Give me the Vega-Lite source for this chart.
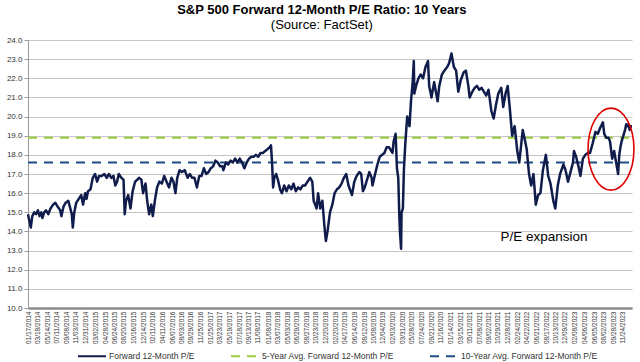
{
  "$schema": "https://vega.github.io/schema/vega-lite/v6.json",
  "autosize": {"type": "none"},
  "width": 604,
  "height": 268,
  "padding": {"left": 28, "top": 40, "right": 8, "bottom": 54},
  "background": "white",
  "config": {
    "view": {"stroke": null},
    "font": "Liberation Sans",
    "axis": {"labelFont": "Liberation Sans", "labelColor": "#333333"},
    "legend": {"labelFont": "Liberation Sans"}
  },
  "title": {
    "text": "S&P 500 Forward 12-Month P/E Ratio: 10 Years",
    "subtitle": "(Source: FactSet)",
    "anchor": "middle",
    "frame": "bounds",
    "font": "Liberation Sans",
    "fontSize": 13,
    "fontWeight": "bold",
    "color": "#000000",
    "subtitleFont": "Liberation Sans",
    "subtitleFontSize": 13,
    "subtitleColor": "#000000",
    "subtitlePadding": 2,
    "offset": 4
  },
  "datasets": {
    "pe": [
      {"date": "2014-01-17", "pe": 14.9}, {"date": "2014-01-24", "pe": 14.6}, {"date": "2014-02-03", "pe": 14.2}, {"date": "2014-02-12", "pe": 14.8}, {"date": "2014-02-24", "pe": 15.0}, {"date": "2014-03-07", "pe": 14.9}, {"date": "2014-03-18", "pe": 15.1}, {"date": "2014-03-28", "pe": 14.8}, {"date": "2014-04-07", "pe": 15.0}, {"date": "2014-04-14", "pe": 14.7}, {"date": "2014-04-25", "pe": 15.0}, {"date": "2014-05-06", "pe": 15.1}, {"date": "2014-05-20", "pe": 14.9}, {"date": "2014-06-02", "pe": 15.2}, {"date": "2014-06-18", "pe": 15.4}, {"date": "2014-07-01", "pe": 15.5}, {"date": "2014-07-15", "pe": 15.3}, {"date": "2014-07-31", "pe": 15.1}, {"date": "2014-08-07", "pe": 14.8}, {"date": "2014-08-20", "pe": 15.3}, {"date": "2014-09-02", "pe": 15.5}, {"date": "2014-09-18", "pe": 15.6}, {"date": "2014-09-30", "pe": 15.2}, {"date": "2014-10-09", "pe": 14.9}, {"date": "2014-10-15", "pe": 14.2}, {"date": "2014-10-24", "pe": 15.0}, {"date": "2014-11-05", "pe": 15.5}, {"date": "2014-11-20", "pe": 15.7}, {"date": "2014-12-05", "pe": 15.9}, {"date": "2014-12-16", "pe": 15.4}, {"date": "2014-12-29", "pe": 16.0},
      {"date": "2015-01-06", "pe": 15.7}, {"date": "2015-01-15", "pe": 16.1}, {"date": "2015-01-30", "pe": 16.2}, {"date": "2015-02-13", "pe": 16.8}, {"date": "2015-02-27", "pe": 17.0}, {"date": "2015-03-11", "pe": 16.6}, {"date": "2015-03-23", "pe": 16.9}, {"date": "2015-04-08", "pe": 16.9}, {"date": "2015-04-24", "pe": 17.0}, {"date": "2015-05-08", "pe": 16.8}, {"date": "2015-05-21", "pe": 17.0}, {"date": "2015-06-05", "pe": 16.8}, {"date": "2015-06-18", "pe": 16.9}, {"date": "2015-06-29", "pe": 16.4}, {"date": "2015-07-10", "pe": 16.6}, {"date": "2015-07-20", "pe": 17.0}, {"date": "2015-08-05", "pe": 16.8}, {"date": "2015-08-18", "pe": 16.7}, {"date": "2015-08-25", "pe": 14.9}, {"date": "2015-09-02", "pe": 15.6}, {"date": "2015-09-15", "pe": 15.9}, {"date": "2015-09-29", "pe": 15.2}, {"date": "2015-10-12", "pe": 16.1}, {"date": "2015-10-27", "pe": 16.6}, {"date": "2015-11-09", "pe": 16.7}, {"date": "2015-11-20", "pe": 16.8}, {"date": "2015-12-04", "pe": 16.7}, {"date": "2015-12-14", "pe": 16.0}, {"date": "2015-12-29", "pe": 16.5},
      {"date": "2016-01-08", "pe": 15.6}, {"date": "2016-01-20", "pe": 14.9}, {"date": "2016-02-02", "pe": 15.4}, {"date": "2016-02-11", "pe": 14.8}, {"date": "2016-02-25", "pe": 15.7}, {"date": "2016-03-08", "pe": 16.3}, {"date": "2016-03-22", "pe": 16.6}, {"date": "2016-04-06", "pe": 16.5}, {"date": "2016-04-20", "pe": 16.9}, {"date": "2016-05-04", "pe": 16.6}, {"date": "2016-05-19", "pe": 16.3}, {"date": "2016-06-03", "pe": 16.8}, {"date": "2016-06-15", "pe": 16.6}, {"date": "2016-06-27", "pe": 16.0}, {"date": "2016-07-08", "pe": 16.8}, {"date": "2016-07-22", "pe": 17.2}, {"date": "2016-08-05", "pe": 17.1}, {"date": "2016-08-22", "pe": 17.2}, {"date": "2016-09-09", "pe": 16.8}, {"date": "2016-09-22", "pe": 17.0}, {"date": "2016-10-06", "pe": 16.8}, {"date": "2016-10-20", "pe": 16.8}, {"date": "2016-11-04", "pe": 16.3}, {"date": "2016-11-18", "pe": 16.9}, {"date": "2016-12-02", "pe": 16.9}, {"date": "2016-12-16", "pe": 17.3}, {"date": "2016-12-30", "pe": 17.0},
      {"date": "2017-01-13", "pe": 17.1}, {"date": "2017-01-27", "pe": 17.3}, {"date": "2017-02-10", "pe": 17.4}, {"date": "2017-02-24", "pe": 17.7}, {"date": "2017-03-10", "pe": 17.6}, {"date": "2017-03-24", "pe": 17.4}, {"date": "2017-04-07", "pe": 17.4}, {"date": "2017-04-13", "pe": 17.2}, {"date": "2017-04-28", "pe": 17.6}, {"date": "2017-05-12", "pe": 17.5}, {"date": "2017-05-26", "pe": 17.7}, {"date": "2017-06-09", "pe": 17.6}, {"date": "2017-06-23", "pe": 17.8}, {"date": "2017-07-07", "pe": 17.6}, {"date": "2017-07-21", "pe": 17.8}, {"date": "2017-08-04", "pe": 17.6}, {"date": "2017-08-18", "pe": 17.3}, {"date": "2017-09-01", "pe": 17.6}, {"date": "2017-09-15", "pe": 17.8}, {"date": "2017-09-29", "pe": 17.9}, {"date": "2017-10-13", "pe": 17.9}, {"date": "2017-10-27", "pe": 18.0}, {"date": "2017-11-10", "pe": 17.9}, {"date": "2017-11-24", "pe": 18.1}, {"date": "2017-12-08", "pe": 18.1}, {"date": "2017-12-22", "pe": 18.2},
      {"date": "2018-01-05", "pe": 18.3}, {"date": "2018-01-19", "pe": 18.4}, {"date": "2018-01-26", "pe": 18.5}, {"date": "2018-02-02", "pe": 17.5}, {"date": "2018-02-08", "pe": 16.3}, {"date": "2018-02-15", "pe": 16.8}, {"date": "2018-02-26", "pe": 17.0}, {"date": "2018-03-09", "pe": 16.7}, {"date": "2018-03-22", "pe": 16.2}, {"date": "2018-04-02", "pe": 16.0}, {"date": "2018-04-16", "pe": 16.4}, {"date": "2018-04-30", "pe": 16.1}, {"date": "2018-05-14", "pe": 16.4}, {"date": "2018-05-29", "pe": 16.2}, {"date": "2018-06-11", "pe": 16.5}, {"date": "2018-06-25", "pe": 16.1}, {"date": "2018-07-09", "pe": 16.3}, {"date": "2018-07-23", "pe": 16.2}, {"date": "2018-08-06", "pe": 16.4}, {"date": "2018-08-20", "pe": 16.4}, {"date": "2018-09-04", "pe": 16.6}, {"date": "2018-09-20", "pe": 16.8}, {"date": "2018-10-03", "pe": 16.6}, {"date": "2018-10-11", "pe": 15.6}, {"date": "2018-10-29", "pe": 15.2}, {"date": "2018-11-07", "pe": 16.0}, {"date": "2018-11-20", "pe": 15.2}, {"date": "2018-12-03", "pe": 15.6}, {"date": "2018-12-14", "pe": 14.4}, {"date": "2018-12-24", "pe": 13.5},
      {"date": "2019-01-03", "pe": 14.0}, {"date": "2019-01-18", "pe": 15.0}, {"date": "2019-02-01", "pe": 15.4}, {"date": "2019-02-15", "pe": 16.0}, {"date": "2019-03-01", "pe": 16.2}, {"date": "2019-03-15", "pe": 16.3}, {"date": "2019-03-29", "pe": 16.5}, {"date": "2019-04-12", "pe": 16.8}, {"date": "2019-04-26", "pe": 17.0}, {"date": "2019-05-10", "pe": 16.4}, {"date": "2019-05-31", "pe": 15.9}, {"date": "2019-06-14", "pe": 16.6}, {"date": "2019-06-28", "pe": 16.9}, {"date": "2019-07-15", "pe": 17.1}, {"date": "2019-07-26", "pe": 17.0}, {"date": "2019-08-05", "pe": 16.1}, {"date": "2019-08-16", "pe": 16.3}, {"date": "2019-08-30", "pe": 16.7}, {"date": "2019-09-13", "pe": 17.1}, {"date": "2019-09-27", "pe": 16.8}, {"date": "2019-10-02", "pe": 16.4}, {"date": "2019-10-18", "pe": 17.0}, {"date": "2019-11-01", "pe": 17.5}, {"date": "2019-11-15", "pe": 17.9}, {"date": "2019-11-29", "pe": 18.0}, {"date": "2019-12-13", "pe": 18.1}, {"date": "2019-12-27", "pe": 18.4},
      {"date": "2020-01-10", "pe": 18.4}, {"date": "2020-01-24", "pe": 18.2}, {"date": "2020-01-31", "pe": 18.1}, {"date": "2020-02-07", "pe": 18.7}, {"date": "2020-02-19", "pe": 19.1}, {"date": "2020-02-27", "pe": 17.3}, {"date": "2020-03-06", "pe": 16.8}, {"date": "2020-03-12", "pe": 14.9}, {"date": "2020-03-16", "pe": 14.0}, {"date": "2020-03-23", "pe": 13.1}, {"date": "2020-03-26", "pe": 15.0}, {"date": "2020-04-03", "pe": 15.2}, {"date": "2020-04-09", "pe": 17.2}, {"date": "2020-04-17", "pe": 18.5}, {"date": "2020-04-29", "pe": 20.0}, {"date": "2020-05-13", "pe": 19.5}, {"date": "2020-05-22", "pe": 20.8}, {"date": "2020-06-01", "pe": 21.8}, {"date": "2020-06-08", "pe": 22.9}, {"date": "2020-06-11", "pe": 21.2}, {"date": "2020-06-22", "pe": 21.6}, {"date": "2020-07-06", "pe": 22.0}, {"date": "2020-07-20", "pe": 22.2}, {"date": "2020-08-03", "pe": 22.0}, {"date": "2020-08-18", "pe": 22.6}, {"date": "2020-09-02", "pe": 22.9}, {"date": "2020-09-09", "pe": 21.6}, {"date": "2020-09-23", "pe": 21.0}, {"date": "2020-10-09", "pe": 21.8}, {"date": "2020-10-30", "pe": 20.8}, {"date": "2020-11-09", "pe": 21.6}, {"date": "2020-11-25", "pe": 22.2}, {"date": "2020-12-10", "pe": 22.4}, {"date": "2020-12-28", "pe": 22.6},
      {"date": "2021-01-08", "pe": 22.8}, {"date": "2021-01-22", "pe": 23.3}, {"date": "2021-02-05", "pe": 22.6}, {"date": "2021-02-19", "pe": 22.4}, {"date": "2021-03-04", "pe": 21.3}, {"date": "2021-03-19", "pe": 21.9}, {"date": "2021-04-05", "pe": 22.3}, {"date": "2021-04-19", "pe": 22.4}, {"date": "2021-05-04", "pe": 21.6}, {"date": "2021-05-12", "pe": 21.0}, {"date": "2021-05-28", "pe": 21.3}, {"date": "2021-06-11", "pe": 21.5}, {"date": "2021-06-25", "pe": 21.6}, {"date": "2021-07-09", "pe": 21.4}, {"date": "2021-07-23", "pe": 21.5}, {"date": "2021-08-06", "pe": 21.3}, {"date": "2021-08-20", "pe": 21.1}, {"date": "2021-09-03", "pe": 21.4}, {"date": "2021-09-20", "pe": 20.3}, {"date": "2021-10-04", "pe": 19.9}, {"date": "2021-10-18", "pe": 20.6}, {"date": "2021-11-01", "pe": 21.2}, {"date": "2021-11-19", "pe": 21.5}, {"date": "2021-12-01", "pe": 20.5}, {"date": "2021-12-15", "pe": 21.2}, {"date": "2021-12-28", "pe": 21.6},
      {"date": "2022-01-10", "pe": 20.4}, {"date": "2022-01-24", "pe": 19.0}, {"date": "2022-02-08", "pe": 19.5}, {"date": "2022-02-24", "pe": 18.2}, {"date": "2022-03-08", "pe": 17.6}, {"date": "2022-03-29", "pe": 19.3}, {"date": "2022-04-08", "pe": 18.9}, {"date": "2022-04-22", "pe": 18.3}, {"date": "2022-05-06", "pe": 17.0}, {"date": "2022-05-19", "pe": 16.4}, {"date": "2022-06-02", "pe": 17.0}, {"date": "2022-06-16", "pe": 15.4}, {"date": "2022-06-30", "pe": 15.9}, {"date": "2022-07-14", "pe": 16.0}, {"date": "2022-07-29", "pe": 17.2}, {"date": "2022-08-16", "pe": 18.0}, {"date": "2022-08-30", "pe": 16.9}, {"date": "2022-09-13", "pe": 16.5}, {"date": "2022-09-30", "pe": 15.6}, {"date": "2022-10-12", "pe": 15.2}, {"date": "2022-10-27", "pe": 16.4}, {"date": "2022-11-10", "pe": 17.0}, {"date": "2022-11-30", "pe": 17.5}, {"date": "2022-12-13", "pe": 17.2}, {"date": "2022-12-28", "pe": 16.6},
      {"date": "2023-01-12", "pe": 17.1}, {"date": "2023-01-27", "pe": 17.6}, {"date": "2023-02-02", "pe": 18.2}, {"date": "2023-02-15", "pe": 17.9}, {"date": "2023-03-01", "pe": 17.4}, {"date": "2023-03-13", "pe": 16.9}, {"date": "2023-03-28", "pe": 17.8}, {"date": "2023-04-12", "pe": 18.0}, {"date": "2023-04-27", "pe": 18.1}, {"date": "2023-05-10", "pe": 18.1}, {"date": "2023-05-26", "pe": 18.6}, {"date": "2023-06-12", "pe": 19.2}, {"date": "2023-06-26", "pe": 19.1}, {"date": "2023-07-10", "pe": 19.4}, {"date": "2023-07-27", "pe": 19.7}, {"date": "2023-08-04", "pe": 19.1}, {"date": "2023-08-16", "pe": 18.9}, {"date": "2023-08-30", "pe": 18.9}, {"date": "2023-09-08", "pe": 18.7}, {"date": "2023-09-21", "pe": 17.8}, {"date": "2023-10-03", "pe": 18.2}, {"date": "2023-10-13", "pe": 17.7}, {"date": "2023-10-27", "pe": 17.0}, {"date": "2023-11-03", "pe": 18.0}, {"date": "2023-11-10", "pe": 18.4}, {"date": "2023-11-17", "pe": 18.7}, {"date": "2023-11-24", "pe": 18.9}, {"date": "2023-12-01", "pe": 19.1}, {"date": "2023-12-08", "pe": 19.3}, {"date": "2023-12-15", "pe": 19.6}, {"date": "2023-12-22", "pe": 19.5}, {"date": "2023-12-29", "pe": 19.6}, {"date": "2024-01-05", "pe": 19.3}, {"date": "2024-01-12", "pe": 19.5}, {"date": "2024-01-19", "pe": 19.5}
    ],
    "avg": [
      {"date": "2014-01-17", "pe": 18.9, "series": "5-Year Avg. Forward 12-Month P/E"},
      {"date": "2024-01-19", "pe": 18.9, "series": "5-Year Avg. Forward 12-Month P/E"},
      {"date": "2014-01-17", "pe": 17.6, "series": "10-Year Avg. Forward 12-Month P/E"},
      {"date": "2024-01-19", "pe": 17.6, "series": "10-Year Avg. Forward 12-Month P/E"}
    ],
    "notes": [
      {"date": "2022-08-05", "pe": 13.7, "label": "P/E expansion"}
    ],
    "circle": [
      {"date": "2023-09-14", "pe": 18.3}
    ]
  },
  "encoding": {
    "x": {
      "field": "date", "type": "temporal",
      "scale": {"type": "utc"},
      "axis": {
        "title": null,
        "format": "%m/%d/%Y",
        "labelAngle": 270,
        "labelFontSize": 6.5,
        "labelPadding": 3,
        "labelOverlap": false,
        "grid": false,
        "ticks": false,
        "domainColor": "#8c8c8c",
        "domainWidth": 2.5,
        "values": [
          {"year": 2014, "month": 1, "date": 17, "utc": true}, {"year": 2014, "month": 3, "date": 18, "utc": true}, {"year": 2014, "month": 5, "date": 14, "utc": true}, {"year": 2014, "month": 7, "date": 11, "utc": true}, {"year": 2014, "month": 9, "date": 8, "utc": true}, {"year": 2014, "month": 11, "date": 3, "utc": true}, {"year": 2014, "month": 12, "date": 31, "utc": true},
          {"year": 2015, "month": 3, "date": 2, "utc": true}, {"year": 2015, "month": 4, "date": 28, "utc": true}, {"year": 2015, "month": 6, "date": 24, "utc": true}, {"year": 2015, "month": 8, "date": 20, "utc": true}, {"year": 2015, "month": 10, "date": 16, "utc": true}, {"year": 2015, "month": 12, "date": 14, "utc": true},
          {"year": 2016, "month": 2, "date": 11, "utc": true}, {"year": 2016, "month": 4, "date": 11, "utc": true}, {"year": 2016, "month": 6, "date": 7, "utc": true}, {"year": 2016, "month": 8, "date": 3, "utc": true}, {"year": 2016, "month": 9, "date": 29, "utc": true}, {"year": 2016, "month": 11, "date": 25, "utc": true},
          {"year": 2017, "month": 1, "date": 25, "utc": true}, {"year": 2017, "month": 3, "date": 23, "utc": true}, {"year": 2017, "month": 5, "date": 19, "utc": true}, {"year": 2017, "month": 7, "date": 18, "utc": true}, {"year": 2017, "month": 9, "date": 13, "utc": true}, {"year": 2017, "month": 11, "date": 8, "utc": true},
          {"year": 2018, "month": 1, "date": 8, "utc": true}, {"year": 2018, "month": 3, "date": 7, "utc": true}, {"year": 2018, "month": 5, "date": 3, "utc": true}, {"year": 2018, "month": 6, "date": 29, "utc": true}, {"year": 2018, "month": 8, "date": 27, "utc": true}, {"year": 2018, "month": 10, "date": 23, "utc": true}, {"year": 2018, "month": 12, "date": 20, "utc": true},
          {"year": 2019, "month": 2, "date": 20, "utc": true}, {"year": 2019, "month": 4, "date": 17, "utc": true}, {"year": 2019, "month": 6, "date": 14, "utc": true}, {"year": 2019, "month": 8, "date": 12, "utc": true}, {"year": 2019, "month": 10, "date": 8, "utc": true}, {"year": 2019, "month": 12, "date": 4, "utc": true},
          {"year": 2020, "month": 2, "date": 3, "utc": true}, {"year": 2020, "month": 3, "date": 31, "utc": true}, {"year": 2020, "month": 5, "date": 28, "utc": true}, {"year": 2020, "month": 7, "date": 24, "utc": true}, {"year": 2020, "month": 9, "date": 21, "utc": true}, {"year": 2020, "month": 11, "date": 16, "utc": true},
          {"year": 2021, "month": 1, "date": 14, "utc": true}, {"year": 2021, "month": 3, "date": 15, "utc": true}, {"year": 2021, "month": 5, "date": 11, "utc": true}, {"year": 2021, "month": 7, "date": 8, "utc": true}, {"year": 2021, "month": 9, "date": 2, "utc": true}, {"year": 2021, "month": 10, "date": 29, "utc": true}, {"year": 2021, "month": 12, "date": 28, "utc": true},
          {"year": 2022, "month": 2, "date": 24, "utc": true}, {"year": 2022, "month": 4, "date": 22, "utc": true}, {"year": 2022, "month": 6, "date": 21, "utc": true}, {"year": 2022, "month": 8, "date": 17, "utc": true}, {"year": 2022, "month": 10, "date": 13, "utc": true}, {"year": 2022, "month": 12, "date": 9, "utc": true},
          {"year": 2023, "month": 2, "date": 8, "utc": true}, {"year": 2023, "month": 4, "date": 6, "utc": true}, {"year": 2023, "month": 6, "date": 5, "utc": true}, {"year": 2023, "month": 8, "date": 2, "utc": true}, {"year": 2023, "month": 9, "date": 28, "utc": true}, {"year": 2023, "month": 11, "date": 24, "utc": true}
        ]
      }
    },
    "y": {
      "field": "pe", "type": "quantitative",
      "scale": {"domain": [10, 24], "nice": false, "zero": false},
      "axis": {
        "title": null,
        "values": [10, 11, 12, 13, 14, 15, 16, 17, 18, 19, 20, 21, 22, 23, 24],
        "format": ".1f",
        "labelFontSize": 8,
        "gridColor": "#c4c4c4",
        "gridWidth": 1,
        "domainColor": "#9a9a9a",
        "tickColor": "#9a9a9a",
        "tickSize": 4,
        "labelPadding": 2
      }
    }
  },
  "layer": [
    {
      "data": {"name": "avg"},
      "mark": {"type": "line", "strokeWidth": 2},
      "encoding": {
        "color": {
          "field": "series", "type": "nominal",
          "scale": {
            "domain": ["Forward 12-Month P/E", "5-Year Avg. Forward 12-Month P/E", "10-Year Avg. Forward 12-Month P/E"],
            "range": ["#101c4c", "#9ccb3b", "#1f4e86"]
          },
          "legend": {
            "title": null,
            "orient": "none",
            "legendX": 49,
            "legendY": 301,
            "direction": "horizontal",
            "labelFontSize": 8.5,
            "labelColor": "#333333",
            "symbolType": "stroke",
            "symbolSize": 784,
            "symbolStrokeWidth": 2,
            "columnPadding": 32,
            "labelOffset": 2
          }
        },
        "strokeDash": {
          "field": "series", "type": "nominal",
          "scale": {
            "domain": ["Forward 12-Month P/E", "5-Year Avg. Forward 12-Month P/E", "10-Year Avg. Forward 12-Month P/E"],
            "range": [[1, 0], [9, 7], [9, 7]]
          },
          "legend": {
            "title": null,
            "orient": "none",
            "legendX": 49,
            "legendY": 301,
            "direction": "horizontal",
            "labelFontSize": 8.5,
            "labelColor": "#333333",
            "symbolType": "stroke",
            "symbolSize": 784,
            "symbolStrokeWidth": 2,
            "columnPadding": 32,
            "labelOffset": 2
          }
        }
      }
    },
    {
      "data": {"name": "pe"},
      "transform": [{"calculate": "'Forward 12-Month P/E'", "as": "series"}],
      "mark": {"type": "line", "strokeWidth": 2.5, "strokeJoin": "round"},
      "encoding": {
        "color": {"field": "series", "type": "nominal"},
        "strokeDash": {"field": "series", "type": "nominal"}
      }
    },
    {
      "data": {"name": "notes"},
      "mark": {"type": "text", "fontSize": 13.5, "font": "Liberation Sans", "color": "#000000", "align": "center", "baseline": "middle"},
      "encoding": {
        "text": {"field": "label"}
      }
    },
    {
      "data": {"name": "circle"},
      "mark": {
        "type": "point",
        "shape": "M 0 -1 C 0.309 -1 0.56 -0.552 0.56 0 C 0.56 0.552 0.309 1 0 1 C -0.309 1 -0.56 0.552 -0.56 0 C -0.56 -0.552 -0.309 -1 0 -1 Z",
        "filled": false,
        "stroke": "#e00000",
        "strokeWidth": 1.6,
        "size": 6724,
        "opacity": 1
      },
      "encoding": {}
    }
  ]
}
